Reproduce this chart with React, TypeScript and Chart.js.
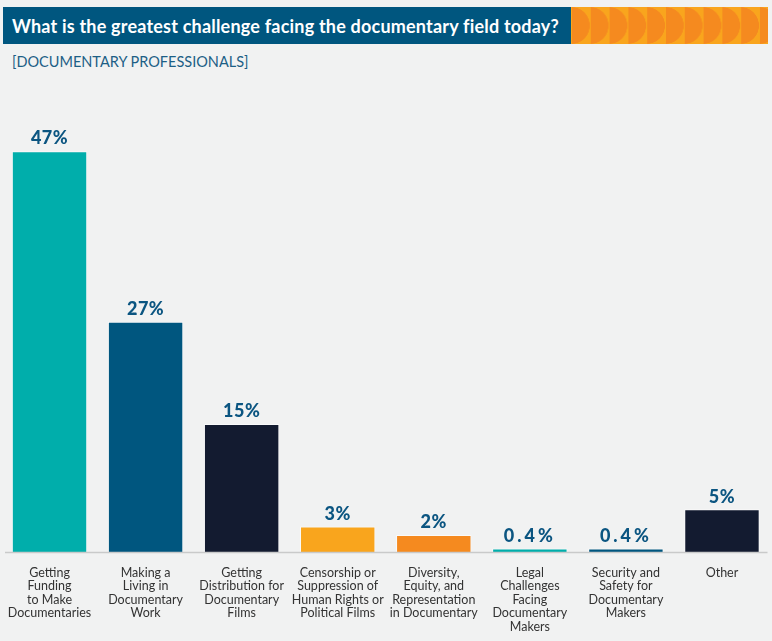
import React, { useEffect, useRef } from "react";
import { Chart, registerables } from "chart.js";

Chart.register(...registerables);

const categories: string[][] = [
  ["Getting", "Funding", "to Make", "Documentaries"],
  ["Making a", "Living in", "Documentary", "Work"],
  ["Getting", "Distribution for", "Documentary", "Films"],
  ["Censorship or", "Suppression of", "Human Rights or", "Political Films"],
  ["Diversity,", "Equity, and", "Representation", "in Documentary"],
  ["Legal", "Challenges", "Facing", "Documentary", "Makers"],
  ["Security and", "Safety for", "Documentary", "Makers"],
  ["Other"],
];

const shares: number[] = [47, 27, 15, 3, 2, 0.4, 0.4, 5];

const barColors: string[] = [
  "#00aeab",
  "#00567f",
  "#131b30",
  "#f9a51d",
  "#f58a1f",
  "#00aeab",
  "#00567f",
  "#131b30",
];

const titleText = "What is the greatest challenge facing the documentary field today?";
const subtitleText = "[DOCUMENTARY PROFESSIONALS]";

const FONT = "Lato, 'Open Sans', sans-serif";

// Value labels above each bar and the thin grey baseline
const annotatePlugin = {
  id: "annotate",
  afterDatasetsDraw(chart: any) {
    const { ctx, chartArea } = chart;
    const yScale = chart.scales.y;
    const y0 = yScale.getPixelForValue(0);
    ctx.save();
    ctx.strokeStyle = "#c9caca";
    ctx.lineWidth = 1.5;
    ctx.beginPath();
    ctx.moveTo(chartArea.left + 3.5, y0 + 0.5);
    ctx.lineTo(chartArea.right - 2.5, y0 + 0.5);
    ctx.stroke();

    const meta = chart.getDatasetMeta(0);
    ctx.fillStyle = "#0b5581";
    ctx.font = `900 18px ${FONT}`;
    ctx.textAlign = "center";
    ctx.textBaseline = "middle";
    meta.data.forEach((bar: any, i: number) => {
      const v = chart.data.datasets[0].data[i] as number;
      const text = `${v}%`;
      // decimal values are set with wider tracking
      (ctx as any).letterSpacing = Number.isInteger(v) ? "0.5px" : "3px";
      ctx.fillText(text, bar.x, bar.y - 12.5);
    });
    (ctx as any).letterSpacing = "0px";
    ctx.restore();
  },
};

export default function App() {
  const canvasRef = useRef<HTMLCanvasElement | null>(null);

  useEffect(() => {
    if (!canvasRef.current) return;
    const chart = new Chart(canvasRef.current, {
      type: "bar",
      data: {
        labels: categories,
        datasets: [
          {
            data: shares,
            backgroundColor: barColors,
            borderColor: "rgba(255,255,255,0.6)",
            borderWidth: 1,
            categoryPercentage: 1,
            barPercentage: 0.785,
          },
        ],
      },
      options: {
        animation: false,
        responsive: false,
        maintainAspectRatio: false,
        layout: { padding: { top: 100, left: 1.5, right: 2, bottom: 0 } },
        plugins: {
          legend: { display: false },
          tooltip: { enabled: false },
          title: { display: false },
        },
        scales: {
          y: {
            display: false,
            min: 0,
            max: 53,
          },
          x: {
            grid: { display: false, drawTicks: false },
            border: { display: false },
            ticks: {
              autoSkip: false,
              maxRotation: 0,
              minRotation: 0,
              color: "#333333",
              padding: 14,
              font: { family: FONT, size: 12.5, lineHeight: 1.08 },
            },
            afterFit: (axis: any) => {
              axis.height = 89;
              // labels sit inside their category slots; no side padding needed
              axis.paddingLeft = 0;
              axis.paddingRight = 0;
            },
          },
        },
      },
      plugins: [annotatePlugin],
    });
    return () => chart.destroy();
  }, []);

  return (
    <div
      style={{
        position: "fixed",
        left: 0,
        top: 0,
        width: 772,
        height: 641,
        background: "#f1f2f2",
        overflow: "hidden",
        fontFamily: FONT,
      }}
    >
      <div
        style={{
          position: "absolute",
          left: 3,
          top: 7,
          width: 568,
          height: 37,
          background: "#00567f",
          color: "#ffffff",
          display: "flex",
          alignItems: "center",
          overflow: "hidden",
        }}
      >
        <span
          style={{
            display: "inline-block",
            paddingLeft: 9,
            fontWeight: 700,
            fontSize: 18,
            letterSpacing: 0.2,
            whiteSpace: "nowrap",
          }}
        >
          {titleText}
        </span>
      </div>
      <div
        style={{
          position: "absolute",
          left: 571,
          top: 7,
          width: 197,
          height: 37,
          backgroundColor: "#f9a51d",
          backgroundImage:
            "radial-gradient(ellipse 18px 18.5px at 0 50%, #f58a1f 97%, rgba(245,138,31,0) 100%)",
          backgroundSize: "18.8px 37px",
          backgroundPosition: "1px 0",
        }}
      />
      <div
        style={{
          position: "absolute",
          left: 12,
          top: 53,
          color: "#1d5f86",
          fontSize: 14.5,
          whiteSpace: "nowrap",
        }}
      >
        {subtitleText}
      </div>
      <canvas
        ref={canvasRef}
        width={772}
        height={641}
        style={{ position: "absolute", left: 0, top: 0, width: 772, height: 641 }}
      />
    </div>
  );
}
